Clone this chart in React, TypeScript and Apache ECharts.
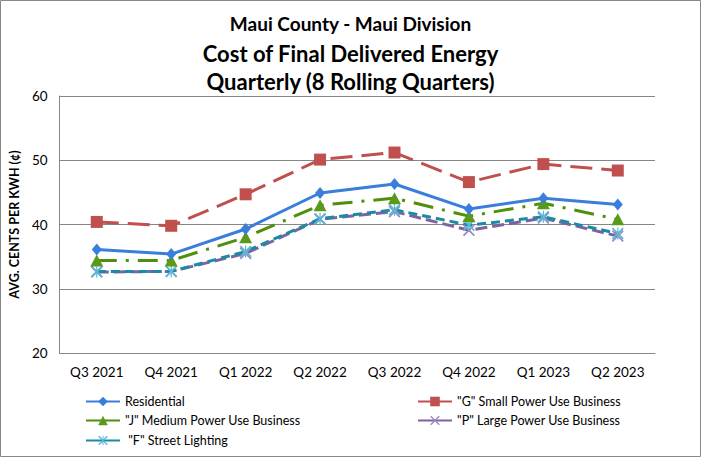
import React, { useEffect, useRef } from "react";
import * as echarts from "echarts";

const categories = ["Q3 2021", "Q4 2021", "Q1 2022", "Q2 2022", "Q3 2022", "Q4 2022", "Q1 2023", "Q2 2023"];
const residential = [36.1, 35.4, 39.3, 44.9, 46.3, 42.4, 44.1, 43.1];
const smallPowerG = [40.4, 39.8, 44.7, 50.1, 51.2, 46.6, 49.4, 48.4];
const mediumPowerJ = [34.4, 34.4, 38.0, 43.0, 44.1, 41.3, 43.3, 40.8];
const largePowerP = [32.6, 32.7, 35.5, 40.8, 42.0, 39.1, 41.0, 38.2];
const streetLightingF = [32.7, 32.7, 35.8, 40.9, 42.3, 39.9, 41.2, 38.6];
const seriesNames = [
  "Residential",
  "\"G\" Small Power Use Business",
  "\"J\" Medium Power Use Business",
  "\"P\" Large Power Use Business",
  " \"F\" Street Lighting",
];
const titleLines = ["Maui County - Maui Division", "Cost of Final Delivered Energy", "Quarterly (8 Rolling Quarters)"];

const FONT = "Lato, 'Liberation Sans', sans-serif";
const X_SYMBOL = "path://M0,1L1,0L10,9L9,10Z M9,0L10,1L1,10L0,9Z";
const STAR_SYMBOL = "path://M0,1L1,0L10,9L9,10Z M9,0L10,1L1,10L0,9Z M4.5,0L5.5,0L5.5,10L4.5,10Z";

export default function App() {
  const ref = useRef<HTMLDivElement>(null);
  useEffect(() => {
    document.body.style.margin = "0";
    const chart = echarts.init(ref.current!, null, { renderer: "svg" });
    const legendBase = {
      orient: "horizontal",
      itemWidth: 34,
      itemHeight: 12,
      itemGap: 4,
      textStyle: { fontFamily: FONT, fontSize: 12.5, color: "#000" },
      lineStyle: { type: "solid" },
      selectedMode: false,
    };
    const titleStyle = (size: number) => ({ fontFamily: FONT, fontSize: size, fontWeight: "bold", color: "#000" });
    chart.setOption({
      animation: false,
      backgroundColor: "#fff",
      title: [
        { text: titleLines[0], left: "center", top: 9, textStyle: titleStyle(19) },
        { text: titleLines[1], left: "center", top: 37, textStyle: titleStyle(22) },
        { text: titleLines[2], left: "center", top: 65, textStyle: titleStyle(22) },
      ],
      graphic: [
        {
          type: "rect",
          shape: { x: 0.5, y: 0.5, width: 700, height: 456 },
          style: { fill: "none", stroke: "#888", lineWidth: 1 },
          silent: true,
        },
      ],
      legend: [
        { ...legendBase, left: 80, top: 390, data: [seriesNames[0]] },
        { ...legendBase, left: 412, top: 390, data: [seriesNames[1]] },
        { ...legendBase, left: 80, top: 409, data: [seriesNames[2]] },
        { ...legendBase, left: 412, top: 409, data: [seriesNames[3]] },
        { ...legendBase, left: 80, top: 429, data: [seriesNames[4]] },
      ],
      grid: { left: 57, right: 46, top: 96, bottom: 104 },
      xAxis: {
        type: "category",
        data: categories,
        boundaryGap: true,
        axisLine: { lineStyle: { color: "#868686", width: 1 } },
        axisTick: { show: false },
        axisLabel: { fontFamily: FONT, fontSize: 13.5, color: "#000", margin: 12 },
      },
      yAxis: {
        type: "value",
        min: 20,
        max: 60,
        interval: 10,
        name: "AVG. CENTS PER KWH (¢)",
        nameLocation: "middle",
        nameGap: 30,
        nameTextStyle: { fontFamily: FONT, fontSize: 12.5, fontWeight: "bold", color: "#000" },
        axisLine: { show: true, lineStyle: { color: "#868686", width: 1 } },
        axisTick: { show: false },
        axisLabel: { fontFamily: FONT, fontSize: 13.5, color: "#000", margin: 12 },
        splitLine: { lineStyle: { color: "#868686", width: 1 } },
      },
      series: [
        {
          name: seriesNames[0],
          type: "line",
          data: residential,
          symbol: "diamond",
          symbolSize: [10, 12],
          color: "#3a7edb",
          lineStyle: { width: 3, color: "#3a7edb" },
          itemStyle: { color: "#3a7edb" },
          z: 5,
        },
        {
          name: seriesNames[1],
          type: "line",
          data: smallPowerG,
          symbol: "rect",
          symbolSize: 12,
          color: "#c0504d",
          lineStyle: { width: 3, color: "#c0504d", type: [22, 9] },
          itemStyle: { color: "#c0504d" },
          z: 4,
        },
        {
          name: seriesNames[2],
          type: "line",
          data: mediumPowerJ,
          symbol: "triangle",
          symbolSize: [13, 12],
          color: "#4f8f0c",
          lineStyle: { width: 3, color: "#4f8f0c", type: [20, 9, 3, 9] },
          itemStyle: { color: "#5a9a1a" },
          z: 3,
        },
        {
          name: seriesNames[3],
          type: "line",
          data: largePowerP,
          symbol: X_SYMBOL,
          symbolSize: 12,
          color: "#7f62a0",
          lineStyle: { width: 3, color: "#7f62a0", type: [12, 5] },
          itemStyle: { color: "#9b86c6" },
          z: 2,
        },
        {
          name: seriesNames[4],
          type: "line",
          data: streetLightingF,
          symbol: STAR_SYMBOL,
          symbolSize: 12,
          color: "#1b8aa2",
          lineStyle: { width: 3, color: "#1b8aa2", type: [9, 5] },
          itemStyle: { color: "#5ab8d6" },
          z: 2,
        },
      ],
    });
    return () => chart.dispose();
  }, []);
  return <div ref={ref} style={{ width: 701, height: 457 }} />;
}
